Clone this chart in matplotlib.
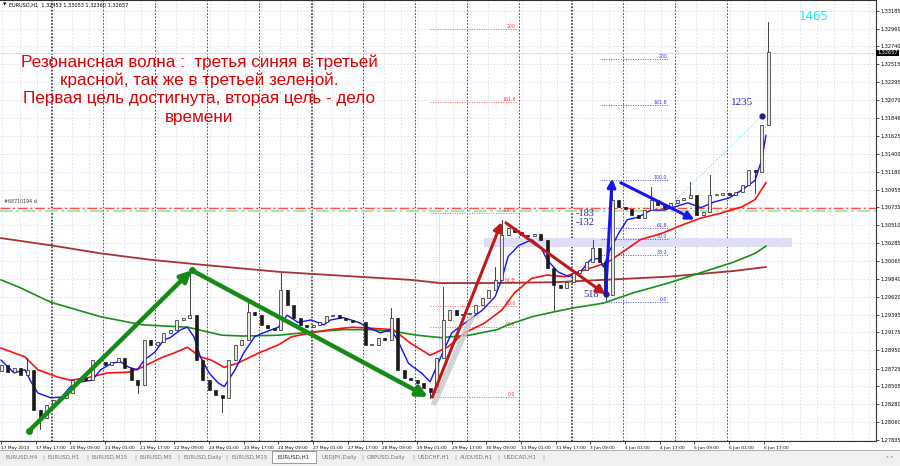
import matplotlib
# non-interactive backend for batch runs
matplotlib.use('Agg')
import matplotlib.pyplot as plt
from matplotlib.patches import Rectangle
from matplotlib.transforms import blended_transform_factory

# ---- data (EURUSD H1) ----
bar_step = 3  # one drawn candle per 3 hourly bars
closes = [1.2877, 1.2868, 1.2873, 1.2864, 1.2871, 1.2821, 1.2811, 1.2827, 1.2833, 1.2836,
          1.2842, 1.2858, 1.2861, 1.2858, 1.2883, 1.2881, 1.2877, 1.2881, 1.2886, 1.2873,
          1.2858, 1.2852, 1.2908, 1.2902, 1.2906, 1.2917, 1.2921, 1.2933, 1.2936, 1.2939,
          1.2883, 1.2858, 1.2846, 1.2840, 1.2836, 1.2883, 1.2902, 1.2908, 1.2943, 1.2939,
          1.2927, 1.2923, 1.2921, 1.2970, 1.2952, 1.2936, 1.2927, 1.2924, 1.2927, 1.2930,
          1.2938, 1.2939, 1.2936, 1.2933, 1.2930, 1.2930, 1.2902, 1.2902, 1.2911, 1.2908,
          1.2936, 1.2871, 1.2861, 1.2858, 1.2855, 1.2848, 1.2843, 1.2886, 1.2933, 1.2945,
          1.2939, 1.2941, 1.2942, 1.2952, 1.2960, 1.2970, 1.2983, 1.3039, 1.3048, 1.3043,
          1.3039, 1.3038, 1.3040, 1.3033, 1.2998, 1.2977, 1.2973, 1.2980, 1.2992, 1.2995,
          1.3005, 1.3023, 1.3005, 1.2964, 1.3083, 1.3074, 1.3071, 1.3064, 1.3060, 1.3070,
          1.3083, 1.3076, 1.3073, 1.3079, 1.3083, 1.3085, 1.3089, 1.3064, 1.3068, 1.3089,
          1.3089, 1.3091, 1.3089, 1.3093, 1.3101, 1.3120, 1.3117, 1.3176, 1.3267]
first_open = 1.2870
spike_i = [4, 6, 21, 29, 34, 38, 43, 60, 66, 68, 76, 77, 85, 91, 93, 94, 100, 106, 109, 116, 118]
spike_p = [1.2886, 1.2797, 1.2842, 1.2995, 1.2818, 1.2954, 1.2992, 1.2948, 1.2836, 1.2974,
           1.2999, 1.3058, 1.2945, 1.3033, 1.2958, 1.3107, 1.3099, 1.3105, 1.3114, 1.3091, 1.3304]

blue_bar = [0, 6, 11, 14, 17, 23, 28, 32, 37, 42, 46, 51, 55, 59, 63, 66, 71, 75, 78, 83, 86, 89,
            92, 96, 100, 103, 108, 112, 117, 121, 128, 132, 137, 143, 149, 152, 158, 165, 169,
            175, 180, 183, 188, 194, 198, 203, 208, 214, 222, 228, 231, 234, 239, 245, 249, 252,
            257, 262, 268, 272, 276, 278, 281, 285, 289, 294, 300, 306, 311, 317, 323, 329, 336,
            342, 348, 351, 353]
blue_val = [1.2883, 1.2867, 1.2871, 1.2855, 1.2842, 1.2836, 1.2837, 1.2850, 1.2856, 1.2858, 1.2871,
            1.2879, 1.2881, 1.2874, 1.2871, 1.2883, 1.2893, 1.2908, 1.2911, 1.2921, 1.2924, 1.2912,
            1.2887, 1.2867, 1.2855, 1.2850, 1.2871, 1.2892, 1.2912, 1.2917, 1.2924, 1.2939, 1.2930,
            1.2933, 1.2927, 1.2933, 1.2936, 1.2930, 1.2924, 1.2917, 1.2921, 1.2908, 1.2879, 1.2867,
            1.2856, 1.2887, 1.2917, 1.2929, 1.2945, 1.2962, 1.2983, 1.3012, 1.3026, 1.3033, 1.3024,
            1.3008, 1.2993, 1.2987, 1.2995, 1.3008, 1.3010, 1.2999, 1.3020, 1.3041, 1.3058, 1.3061,
            1.3070, 1.3070, 1.3074, 1.3079, 1.3073, 1.3080, 1.3085, 1.3095, 1.3107, 1.3132, 1.3163]

red_bar = [0, 11, 17, 26, 32, 40, 49, 59, 65, 74, 80, 86, 92, 97, 103, 109, 119, 128, 134, 143,
           152, 162, 169, 181, 189, 198, 206, 214, 223, 231, 237, 245, 252, 260, 269, 277, 280,
           286, 295, 305, 314, 323, 332, 342, 348, 353]
red_val = [1.2898, 1.2887, 1.2871, 1.2862, 1.2858, 1.2861, 1.2867, 1.2868, 1.2874, 1.2886, 1.2892,
           1.2899, 1.2887, 1.2883, 1.2874, 1.2879, 1.2892, 1.2902, 1.2912, 1.2917, 1.2921, 1.2924,
           1.2923, 1.2921, 1.2904, 1.2889, 1.2899, 1.2917, 1.2929, 1.2945, 1.2967, 1.2985, 1.2989,
           1.2987, 1.2995, 1.3002, 1.3005, 1.3016, 1.3033, 1.3041, 1.3051, 1.3060, 1.3066, 1.3074,
           1.3083, 1.3104]

green_bar = [0, 9, 23, 32, 46, 65, 86, 102, 112, 128, 143, 158, 171, 183, 192, 203, 216, 229,
             234, 245, 255, 264, 278, 292, 308, 323, 338, 348, 353]
green_val = [1.2983, 1.2973, 1.2955, 1.2948, 1.2937, 1.2927, 1.2924, 1.2914, 1.2913, 1.2914,
             1.2918, 1.2921, 1.2921, 1.2918, 1.2914, 1.2911, 1.2914, 1.2921, 1.2927, 1.2937,
             1.2943, 1.2948, 1.2954, 1.2967, 1.2979, 1.2992, 1.3005, 1.3016, 1.3025]

brown_bar = [0, 23, 46, 69, 92, 128, 158, 189, 203, 225, 255, 286, 308, 338, 353]
brown_val = [1.3035, 1.3026, 1.3016, 1.3008, 1.3002, 1.2993, 1.2988, 1.2983, 1.2979, 1.2979,
             1.2980, 1.2984, 1.2987, 1.2994, 1.2999]

fib_levels = ['0.0', '38.2', '50.0', '61.8', '100.0', '161.8', '200']
fib_red = [1.2837, 1.2924, 1.2950, 1.2979, 1.3066, 1.3205, 1.3295]
fib_blue = [1.2955, 1.3014, 1.3034, 1.3048, 1.3108, 1.3201, 1.3258]

price_ticks = [1.27835, 1.28060, 1.28280, 1.28505, 1.28725, 1.28950, 1.29175, 1.29395, 1.29620,
               1.29840, 1.30065, 1.30285, 1.30510, 1.30735, 1.30955, 1.31180, 1.31400, 1.31625,
               1.31846, 1.32070, 1.32295, 1.32515, 1.32740, 1.32960, 1.33185]
date_labels = ['17 May 2013', '17 May 17:00', '20 May 09:00', '21 May 01:00', '21 May 17:00',
               '22 May 09:00', '23 May 01:00', '23 May 17:00', '24 May 09:00', '27 May 01:00',
               '27 May 17:00', '28 May 09:00', '29 May 01:00', '29 May 17:00', '30 May 09:00',
               '31 May 01:00', '31 May 17:00', '3 Jun 09:00', '4 Jun 01:00', '4 Jun 17:00',
               '5 Jun 09:00', '6 Jun 01:00', '6 Jun 17:00']
day_starts = [23, 47, 71, 95, 119, 143, 167, 191, 215, 239, 263, 287, 311, 335]
week_starts = [23, 143, 263]
last_price = 1.32657
order_sl = 1.3073
order_tp = 1.3069

tabs = ['EURUSD,H4', 'EURUSD,H1', 'EURUSD,M15', 'EURUSD,M5', 'EURUSD,Daily', 'EURUSD,M15',
        'EURUSD,H1', 'USDJPY,Daily', 'GBPUSD,Daily', 'USDCHF,H1', 'AUDUSD,H1', 'USDCAD,H1']
tab_x = [5, 48, 92, 140, 183, 231, 278, 322, 367, 418, 460, 503]
active_tab = 6

W, H = 900, 466
fig = plt.figure(figsize=(W / 100, H / 100), dpi=100)
fig.patch.set_facecolor('white')
ax = fig.add_axes([0, 25 / H, 876 / W, 441 / H])
ax.set_xlim(-0.5, 403.8)
ax.set_ylim(1.27822, 1.33317)

grid_c = '#d4d4ee'
for p in price_ticks:
    ax.axhline(p, color=grid_c, lw=0.6, ls=(0, (1.5, 2.5)), zorder=0)
for b in range(0, 410, 8):
    ax.axvline(b + 0.5, color=grid_c, lw=0.6, ls=(0, (1.5, 2.5)), zorder=0)
for b in day_starts:
    ax.axvline(b, color='#333333', lw=0.6, ls=(0, (2, 2)), zorder=1)
    if b in week_starts:
        ax.axvline(b + 0.7, color='#333333', lw=0.6, ls=(0, (2, 2)), zorder=1)

# band, price line and order lines
ax.add_patch(Rectangle((223, 1.3024), 142, 0.0011, facecolor='#dedef6', edgecolor='none', zorder=1))
ax.axhline(last_price, color='#dcdcf0', lw=0.8, zorder=1)
ax.axhline(order_tp, color='#a8e0a8', lw=1.3, ls=(0, (7, 2, 1.5, 2)), zorder=2)
ax.axhline(order_sl, color='#ff5050', lw=1.0, ls=(0, (7, 2, 1.5, 2)), zorder=2)
ax.text(1.5, 1.3077, '#68710194 sl', fontsize=3.4, color='#333333', va='bottom')

# fibo grids
for lab, pr in zip(fib_levels, fib_red):
    ax.plot([198, 238], [pr, pr], color='#ff5a5a', lw=0.7, ls=(0, (1, 1.5)), zorder=2)
    ax.text(237.5, pr, lab, fontsize=3.4, color='#ff4040', ha='right', va='bottom')
ax.plot([202, 202], [fib_red[0], fib_red[4]], color='#ff7a7a', lw=0.6, ls=(0, (1, 1.5)), zorder=2)
for lab, pr in zip(fib_levels, fib_blue):
    ax.plot([277, 308], [pr, pr], color='#4a4aff', lw=0.7, ls=(0, (1, 1.5)), zorder=2)
    ax.text(307.5, pr, lab, fontsize=3.4, color='#3a3aff', ha='right', va='bottom')

# moving averages
ax.plot(brown_bar, brown_val, color='#a83232', lw=1.3, zorder=3)
ax.plot(green_bar, green_val, color='#169016', lw=1.2, zorder=3)
ax.plot(red_bar, red_val, color='#ff1010', lw=1.2, zorder=3)
ax.plot(blue_bar, blue_val, color='#1010ff', lw=1.0, zorder=4)

# candles
opens = [first_open] + closes[:-1]
for i, (o, c) in enumerate(zip(opens, closes)):
    x = i * bar_step
    hi, lo = max(o, c), min(o, c)
    if i in spike_i:
        s = spike_p[spike_i.index(i)]
        hi, lo = max(hi, s), min(lo, s)
    ax.plot([x, x], [lo, hi], color='#222222', lw=0.6, zorder=5)
    bull = c >= o
    ax.add_patch(Rectangle((x - 0.7, min(o, c)), 1.4, max(abs(c - o), 0.00005),
                           facecolor='#e8e8e8' if bull else '#1a1a1a', edgecolor='#222222',
                           lw=0.5, zorder=6))

# wave arrows
def arrow(p0, p1, color, lw, ms):
    ax.annotate('', xy=p1, xytext=p0, zorder=8,
                arrowprops=dict(arrowstyle='-|>', color=color, lw=lw, mutation_scale=ms,
                                shrinkA=0, shrinkB=0))

ax.plot([200, 217], [1.2830, 1.2935], color='#c8c8c8', lw=4, alpha=0.8, zorder=7)
arrow((13, 1.2795), (88, 1.2995), '#168a16', 3.2, 16)
arrow((88, 1.2995), (197, 1.2837), '#168a16', 3.2, 16)
ax.plot([13, 88], [1.2795, 1.2995], 'o', color='#168a16', ms=4, lw=0, zorder=9)
arrow((199, 1.2837), (231, 1.3055), '#c01818', 2.2, 13)
arrow((233, 1.3054), (279, 1.2965), '#c01818', 2.2, 13)
arrow((279, 1.2965), (282, 1.3109), '#1414f0', 2.2, 12)
arrow((286, 1.3104), (320, 1.3058), '#1414f0', 2.2, 12)
ax.plot([310, 351], [1.3079, 1.3187], color='#70e0ff', lw=0.8, ls=':', zorder=8)
ax.plot([279, 351], [1.2965, 1.3187], 'o', color='#202080', ms=3.5, lw=0, zorder=9)

serif = ['Liberation Serif', 'DejaVu Serif']
ax.text(337, 1.3201, '1235', fontsize=8, color='#2a2a9a', family=serif)
ax.text(265, 1.3063, '-183', fontsize=7.5, color='#2a2a9a', family=serif)
ax.text(265, 1.3051, '-132', fontsize=7.5, color='#2a2a9a', family=serif)
ax.text(268.5, 1.2962, '518', fontsize=7.5, color='#2a2a9a', family=serif)
ax.text(368, 1.3307, '1465', fontsize=8.5, color='#22e4f4')

# axes styling
ax.yaxis.tick_right()
ax.set_yticks(price_ticks)
ax.set_yticklabels(['%.5f' % p for p in price_ticks])
ax.set_xticks([16 * k for k in range(len(date_labels))])
ax.set_xticklabels(date_labels)
for lbl in ax.get_xticklabels():
    lbl.set_ha('left')
ax.tick_params(axis='y', labelsize=3.6, length=2, width=0.5, pad=1.2)
ax.tick_params(axis='x', labelsize=3.15, length=2.5, width=0.5, pad=1)
for s in ax.spines.values():
    s.set_linewidth(0.8)
    s.set_color('#333333')
ax.spines['left'].set_visible(False)

tr = blended_transform_factory(ax.transAxes, ax.transData)
ax.text(1.0015, last_price, '%.5f' % last_price, transform=tr, fontsize=3.6, color='white',
        ha='left', va='center', bbox=dict(facecolor='black', edgecolor='none', pad=0.6))

# header and annotation text
fig.text(3 / W, 1 - 5 / H, '\u25bc', fontsize=3.2, va='center')
fig.text(9 / W, 1 - 5 / H, 'EURUSD,H1  1.32453 1.33053 1.32360 1.32657', fontsize=3.6, va='center')
note = ['Резонансная волна :  третья синяя в третьей',
        'красной, так же в третьей зеленой.',
        'Первая цель достигнута, вторая цель - дело',
        'времени']
for k, line in enumerate(note):
    fig.text(199 / W, 1 - (62 + 18.5 * k) / H, line, fontsize=12.3, color='#e00000',
             ha='center', va='center', family=['Liberation Sans', 'DejaVu Sans'])

# terminal tabs strip
fig.patches.append(Rectangle((0, 0), 1, 16 / H, transform=fig.transFigure,
                             facecolor='#f0f0f0', edgecolor='none'))
fig.add_artist(plt.Line2D([0, 1], [16 / H, 16 / H], color='#a0a0a0', lw=0.6))
fig.patches.append(Rectangle((272 / W, 3 / H), 44 / W, 12 / H, transform=fig.transFigure,
                             facecolor='white', edgecolor='#888888', lw=0.6))
for k, (name, x) in enumerate(zip(tabs, tab_x)):
    fig.text(x / W, 9 / H, name, fontsize=4.0, va='center',
             color='#222222' if k == active_tab else '#707070')
    if k != active_tab and k + 1 != active_tab:
        sep_x = (tab_x[k + 1] - 6) if k + 1 < len(tab_x) else 542
        fig.text(sep_x / W, 9 / H, '|', fontsize=4.0, va='center', color='#909090')
fig.text(886 / W, 9 / H, '\u25c2  \u25b8', fontsize=3.2, va='center', color='#909090')

fig.savefig('out.png', dpi=100)
plt.close(fig)
